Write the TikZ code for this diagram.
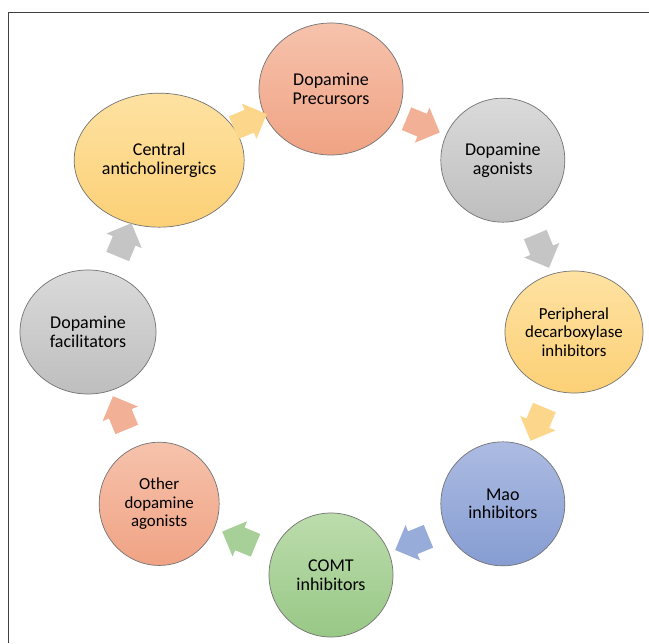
\documentclass[tikz,border=0pt]{standalone}
\usepackage{fontspec}
\setmainfont{Carlito}
\usetikzlibrary{shapes.geometric,shapes.arrows}

\definecolor{salmontop}{RGB}{246,194,172}
\definecolor{salmonbot}{RGB}{240,163,132}
\definecolor{greytop}{RGB}{218,218,218}
\definecolor{greybot}{RGB}{190,190,190}
\definecolor{goldtop}{RGB}{254,226,162}
\definecolor{goldbot}{RGB}{252,208,118}
\definecolor{bluetop}{RGB}{172,187,226}
\definecolor{bluebot}{RGB}{134,157,210}
\definecolor{greentop}{RGB}{188,220,172}
\definecolor{greenbot}{RGB}{152,200,134}

\tikzset{
  drug/.style={ellipse, draw=black!55, line width=0.5pt, inner sep=0pt, align=center,
    text=black, font=\fontsize{12.8}{13.4}\selectfont},
  smalldrug/.style={drug, font=\fontsize{12}{13}\selectfont},
  cyclearrow/.style={single arrow, draw=none, inner xsep=0.1cm, inner ysep=0.3cm,
    minimum height=0.9cm, single arrow head extend=0.17cm},
}

\begin{document}
\begin{tikzpicture}
\useasboundingbox (-8.275,-7.775) rectangle (7.95,8.3);
\draw[black!75, line width=0.6pt] (7.95,8.0) -- (-8.075,8.0) -- (-8.075,-7.775);

\node[drug, top color=salmontop, bottom color=salmonbot, minimum width=3.6cm, minimum height=3.3cm] (precursors) at (90:6.075) {Dopamine\\Precursors};
\node[drug, top color=greytop, bottom color=greybot, minimum width=3.1cm, minimum height=3.1cm] (agonists) at (45:6.075) {Dopamine\\agonists};
\node[smalldrug, top color=goldtop, bottom color=goldbot, minimum width=3.45cm, minimum height=3.05cm] (peripheral) at (0:6.075) {Peripheral\\decarboxylase\\inhibitors};
\node[drug, top color=bluetop, bottom color=bluebot, minimum width=3.1cm, minimum height=3.1cm] (mao) at (-45:6.075) {Mao\\inhibitors};
\node[drug, top color=greentop, bottom color=greenbot, minimum width=3.1cm, minimum height=3.1cm] (comt) at (-90:6.075) {COMT\\inhibitors};
\node[smalldrug, top color=salmontop, bottom color=salmonbot, minimum width=3.0cm, minimum height=3.08cm] (other) at (-135:6.075) {Other\\dopamine\\agonists};
\node[drug, top color=greytop, bottom color=greybot, minimum width=3.4cm, minimum height=3.1cm] (facilitators) at (180:6.075) {Dopamine\\facilitators};
\node[drug, top color=goldtop, bottom color=goldbot, minimum width=4.25cm, minimum height=3.35cm] (central) at (135:6.075) {Central\\anticholinergics};

\node[cyclearrow, fill=salmonbot!85, rotate=-22.5] (arrowpa) at (67.5:5.65) {};
\node[cyclearrow, fill=greybot!90, rotate=-67.5] (arrowap) at (22.5:5.65) {};
\node[cyclearrow, fill=goldbot!85, rotate=-112.5] (arrowpm) at (-22.5:5.65) {};
\node[cyclearrow, fill=bluebot!85, rotate=-157.5] (arrowmc) at (-67.5:5.65) {};
\node[cyclearrow, fill=greenbot!85, rotate=157.5] (arrowco) at (-112.5:5.65) {};
\node[cyclearrow, fill=salmonbot!85, rotate=112.5] (arrowof) at (-157.5:5.65) {};
\node[cyclearrow, fill=greybot!90, rotate=67.5] (arrowfc) at (157.5:5.65) {};
\node[cyclearrow, fill=goldbot!85, rotate=22.5] (arrowcp) at (112.5:5.65) {};

\end{tikzpicture}
\end{document}
